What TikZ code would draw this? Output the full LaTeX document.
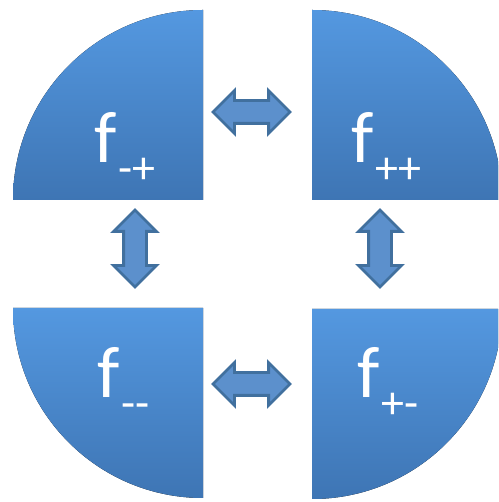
\documentclass[tikz,border=0pt]{standalone}
\usepackage{fontspec}
\setmainfont{Carlito}
\usepackage{xcolor}
\usetikzlibrary{shapes.arrows,positioning}
\definecolor{quartop}{RGB}{84,152,224}
\definecolor{quarbot}{RGB}{62,117,180}
\definecolor{arrfill}{RGB}{92,144,204}
\definecolor{arrline}{RGB}{65,112,158}
\newcommand{\fsub}[1]{\fontsize{73}{73}\selectfont f\kern2pt\raisebox{-21pt}{\fontsize{46}{46}\selectfont #1}}

\begin{document}
\begin{tikzpicture}[x=1pt,y=1pt,
  quarter/.style={top color=quartop,bottom color=quarbot,draw=none},
  swap/.style={shape=double arrow,fill=arrfill,draw=arrline,line width=2.8pt,
               minimum height=77pt,inner sep=10pt,double arrow head extend=10pt,
               double arrow tip angle=90},
  flabel/.style={text=white,anchor=base west,inner sep=0pt}]
\clip (0,0) rectangle (498,502);

% ---- corners of the four quarters ----
\coordinate (cmp) at (203,302);
\coordinate (cpp) at (312,302);
\coordinate (cmm) at (203,194);
\coordinate (cpm) at (312,193);

\fill[quarter] (cmp) -- ++(-190,0) arc (180:90:190) -- cycle;
\fill[quarter] (cpp) -- ++(0,190) arc (90:0:190) -- cycle;
\fill[quarter] (cmm) -- ++(0,-190) arc (270:180:190) -- cycle;
\fill[quarter] (cpm) -- ++(190,0) arc (0:-90:190) -- cycle;

% ---- labels ----
\node[flabel] (fmp) at (94,339) {\fsub{-+}};
\node[flabel] (fpp) at (351,339) {\fsub{++}};
\node[flabel] (fmm) at (97,104) {\fsub{-{}-}};
\node[flabel] (fpm) at (357,104) {\fsub{+-}};

% ---- exchange arrows ----
\node[swap] (top) at (251.5,390) {};
\node[swap,rotate=90] (left) at (135,253.5) {};
\node[swap,rotate=90] (right) at (380,253.5) {};
\node[swap] (bottom) at (251.5,118) {};
\end{tikzpicture}
\end{document}
